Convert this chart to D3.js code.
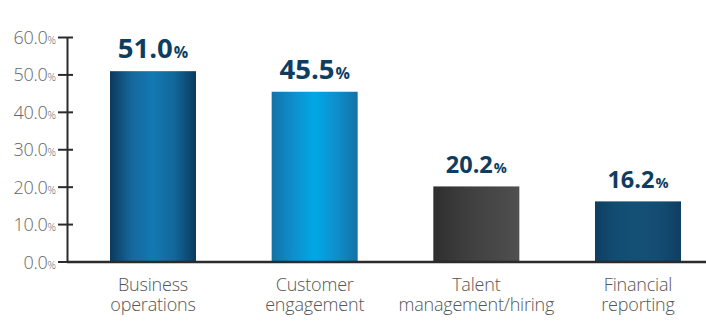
<!DOCTYPE html>
<html>
<head>
<meta charset="utf-8">
<script src="https://cdn.jsdelivr.net/npm/d3@7/dist/d3.min.js"></script>
<style>
  html, body { margin: 0; padding: 0; background: #fff; }
  svg { display: block; }
</style>
</head>
<body>
<svg id="chart" width="706" height="333"></svg>
<script>
// ---- data ----
const categories = [
  ["Business", "operations"],
  ["Customer", "engagement"],
  ["Talent", "management/hiring"],
  ["Financial", "reporting"]
];
const values = [51.0, 45.5, 20.2, 16.2];
const yTicks = [0, 10, 20, 30, 40, 50, 60];

// ---- styles ----
const gradients = [
  ["#0b3a5c", "#15689c", "#1379b2", "#12679a", "#0b3a5c"],
  ["#1372a8", "#0e8fcc", "#00a8e6", "#0e8fcc", "#1372a8"],
  ["#2e2e2e", "#393939", "#424242", "#484848", "#505050"],
  ["#0e3f62", "#134c72", "#145075", "#134c72", "#0e3f62"]
];

const svg = d3.select("#chart");
const W = 706, H = 333;
const axisX = 67;

const y = d3.scaleLinear().domain([0, 60]).range([262, 37.5]);
const x = d3.scaleBand()
  .domain(d3.range(categories.length))
  .range([67, 724])
  .paddingInner(0.468)
  .paddingOuter(0.266);

const defs = svg.append("defs");
gradients.forEach((stops, i) => {
  const g = defs.append("linearGradient")
    .attr("id", "grad" + i)
    .attr("x1", "0%").attr("x2", "100%").attr("y1", "0%").attr("y2", "0%");
  stops.forEach((c, j) => {
    g.append("stop").attr("offset", (j / (stops.length - 1) * 100) + "%").attr("stop-color", c);
  });
});

// bars
svg.selectAll("rect.bar")
  .data(values)
  .enter().append("rect")
  .attr("class", "bar")
  .attr("x", (d, i) => x(i))
  .attr("width", x.bandwidth())
  .attr("y", d => y(d))
  .attr("height", d => y(0) - y(d))
  .attr("fill", (d, i) => `url(#grad${i})`);

// y axis
const yAxis = d3.axisLeft(y).tickValues(yTicks).tickSize(0).tickFormat("");
const ag = svg.append("g").attr("transform", `translate(${axisX},0)`).call(yAxis);
ag.select(".domain").attr("stroke", "#2b2b2b").attr("stroke-width", 2);
// ticks crossing axis
svg.selectAll("line.ytick")
  .data(yTicks)
  .enter().append("line")
  .attr("x1", axisX - 9).attr("x2", axisX + 6)
  .attr("y1", d => y(d)).attr("y2", d => y(d))
  .attr("stroke", "#2b2b2b").attr("stroke-width", 2);

// baseline
svg.append("line")
  .attr("x1", axisX).attr("x2", W)
  .attr("y1", y(0)).attr("y2", y(0))
  .attr("stroke", "#2b2b2b").attr("stroke-width", 2.5);

// y labels
const yl = svg.selectAll("text.ylab")
  .data(yTicks)
  .enter().append("text")
  .attr("class", "ylab")
  .attr("x", 56)
  .attr("y", d => y(d) + 6.5)
  .attr("text-anchor", "end")
  .attr("font-family", "'Open Sans', 'DejaVu Sans', sans-serif")
  .attr("font-weight", 300)
  .attr("fill", "#666");
yl.append("tspan").attr("font-size", "18px").attr("letter-spacing", "-0.3px").text(d => d.toFixed(1));
yl.append("tspan").attr("font-size", "10.5px").text("%");

// value labels
const vl = svg.selectAll("text.vlab")
  .data(values)
  .enter().append("text")
  .attr("class", "vlab")
  .attr("x", (d, i) => x(i) + x.bandwidth() / 2)
  .attr("y", d => y(d) - 13)
  .attr("text-anchor", "middle")
  .attr("font-family", "'Open Sans', 'DejaVu Sans', sans-serif")
  .attr("font-weight", 700)
  .attr("fill", "#0f3d5f");
vl.append("tspan").attr("font-size", d => (d > 30 ? 27.5 : 23.5) + "px").text(d => d.toFixed(1));
vl.append("tspan").attr("font-size", d => (d > 30 ? 16 : 14.5) + "px").attr("dx", 1).text("%");

// category labels (one text per line)
const lineData = [];
categories.forEach((lines, i) => lines.forEach((ln, j) => lineData.push({ i, j, ln })));
svg.selectAll("text.clab")
  .data(lineData)
  .enter().append("text")
  .attr("class", "clab")
  .attr("x", d => x(d.i) + x.bandwidth() / 2)
  .attr("y", d => 291 + d.j * 19.5)
  .attr("text-anchor", "middle")
  .attr("font-family", "'Open Sans', 'DejaVu Sans', sans-serif")
  .attr("font-weight", 300)
  .attr("font-size", "18px")
  .attr("letter-spacing", "-0.2px")
  .attr("fill", "#555")
  .text(d => d.ln);
</script>
</body>
</html>
